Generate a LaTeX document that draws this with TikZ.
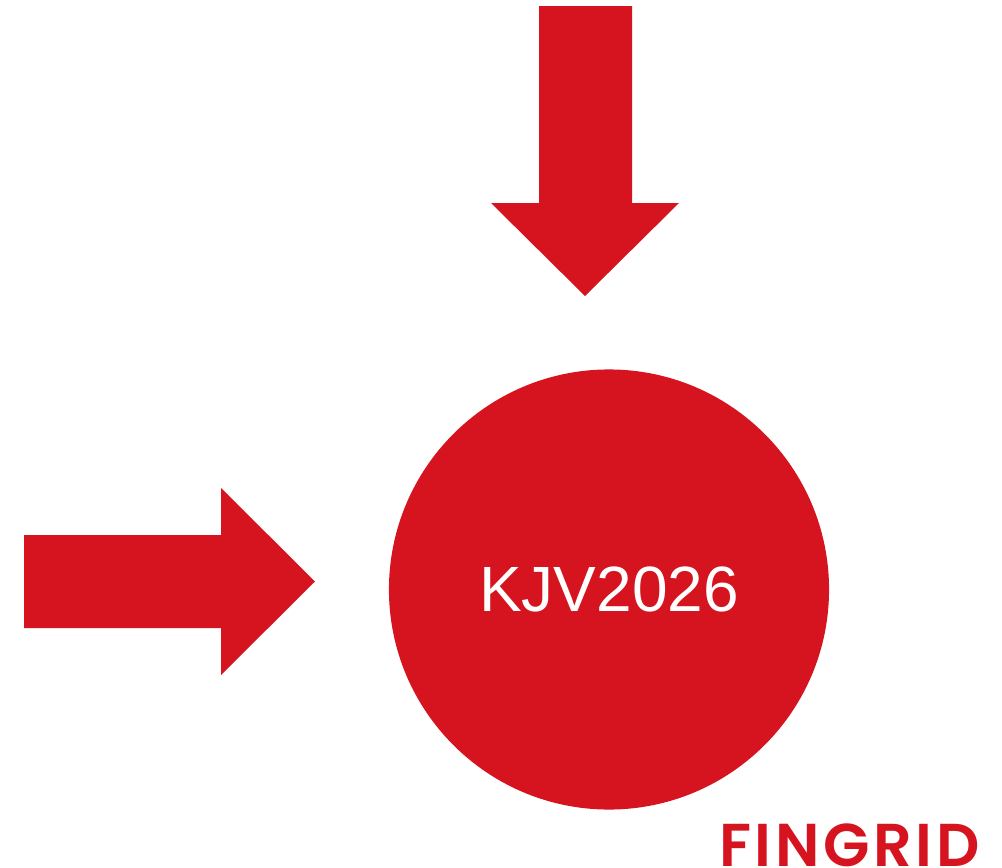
\documentclass[tikz,border=0pt]{standalone}
\usepackage{fontspec}
\setmainfont{Liberation Sans}
\newfontfamily\logofont[LetterSpace=6]{Poppins SemiBold}
\definecolor{fingridred}{HTML}{D6141F}
\begin{document}
\begin{tikzpicture}[x=0.025cm,y=-0.025cm]
            \useasboundingbox (0,0) rectangle (1002,868);
            \fill[fingridred] (539,6) -- (632,6) -- (632,203) -- (679,203) -- (585,296) -- (491,203) -- (539,203) -- cycle;
            \fill[fingridred] (24,535) -- (221,535) -- (221,488) -- (315,581.5) -- (221,675) -- (221,628) -- (24,628) -- cycle;
            \node[circle, fill=fingridred, minimum size=11cm, inner sep=0pt, text=white] (kjv) at (609,589.5) {\raisebox{-1.2pt}{\fontsize{45.5pt}{50pt}\selectfont KJV2026}};
            \node[anchor=base east, inner sep=0pt, text=fingridred] (logo) at (980,866.5) {\fontsize{43pt}{50pt}\logofont FINGRID};
        \end{tikzpicture}
\end{document}
